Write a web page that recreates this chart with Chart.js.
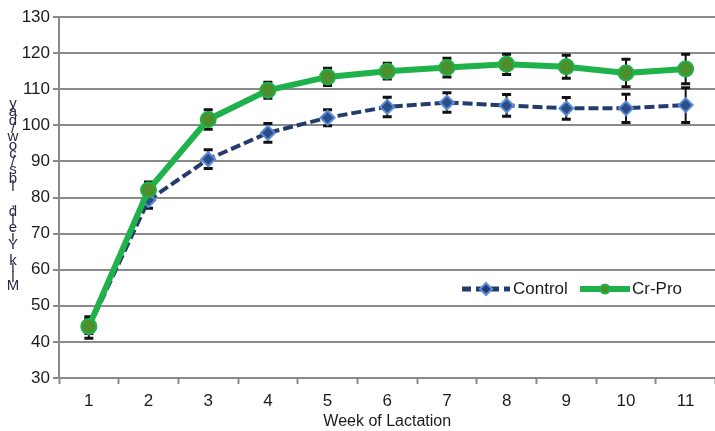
<!DOCTYPE html>
<html>
<head>
<meta charset="utf-8">
<script src="https://cdn.jsdelivr.net/npm/chart.js@4.4.1/dist/chart.umd.min.js"></script>
<style>
  html, body { margin: 0; padding: 0; background: #fff; overflow: hidden; }
  #wrap { width: 725px; height: 431px; }
</style>
</head>
<body>
<div id="wrap"><canvas id="c" width="725" height="431"></canvas></div>
<script>
// Weekly milk yield by treatment
const weeks = ['1', '2', '3', '4', '5', '6', '7', '8', '9', '10', '11'];
const controlMean = [44.0, 79.3, 90.6, 97.9, 102.1, 105.1, 106.3, 105.5, 104.7, 104.7, 105.6];
const controlErr  = [3.0, 2.3, 2.6, 2.6, 2.2, 2.7, 2.7, 3.0, 3.0, 3.9, 4.8];
const crProMean   = [44.3, 82.1, 101.6, 109.7, 113.4, 115.0, 116.0, 116.9, 116.2, 114.5, 115.6];
const crProErr    = [2.0, 2.2, 2.7, 2.2, 2.4, 2.2, 2.6, 2.8, 3.2, 3.8, 4.1];
const yTitle = 'Milk Yield, lbs/cow/day';
const xTitle = 'Week of Lactation';

const FONT = "'Liberation Sans', Arial, sans-serif";
const TEXT = '#1c1c1c';
const GRID = '#8a8a8a';
const NAVY = '#243b6e';
const GREEN = '#1fb24a';

// Vertical error bars, drawn underneath the series lines
const errorBars = {
  id: 'errorBars',
  beforeDatasetsDraw(chart) {
    const ctx = chart.ctx;
    const y = chart.scales.y;
    ctx.save();
    ctx.strokeStyle = '#111';
    chart.data.datasets.forEach((ds, i) => {
      const meta = chart.getDatasetMeta(i);
      meta.data.forEach((pt, j) => {
        const e = ds.errors[j];
        const v = ds.data[j];
        const top = y.getPixelForValue(v + e);
        const bot = y.getPixelForValue(v - e);
        ctx.lineWidth = 2;
        ctx.beginPath();
        ctx.moveTo(pt.x, top); ctx.lineTo(pt.x, bot);
        ctx.stroke();
        ctx.lineWidth = 3;
        ctx.beginPath();
        ctx.moveTo(pt.x - 4.5, top); ctx.lineTo(pt.x + 4.5, top);
        ctx.moveTo(pt.x - 4.5, bot); ctx.lineTo(pt.x + 4.5, bot);
        ctx.stroke();
      });
    });
    ctx.restore();
  }
};

// Legend inside the plot and the stacked-letter y title
const decorations = {
  id: 'decorations',
  afterDraw(chart) {
    const ctx = chart.ctx;
    ctx.save();
    // y title: characters stacked bottom to top
    ctx.font = '15px ' + FONT;
    ctx.fillStyle = '#2a2a4a';
    ctx.textAlign = 'center';
    ctx.textBaseline = 'middle';
    const chars = yTitle.split('');
    const step = (286 - 104) / (chars.length - 1);
    chars.forEach((ch, k) => {
      ctx.fillText(ch, 13, 286 - k * step);
    });

    // legend
    const ly = 289;
    // Control sample
    ctx.strokeStyle = NAVY;
    ctx.lineWidth = 5;
    ctx.setLineDash([9, 5]);
    ctx.beginPath(); ctx.moveTo(462, ly); ctx.lineTo(510, ly); ctx.stroke();
    ctx.setLineDash([]);
    ctx.fillStyle = NAVY;
    ctx.strokeStyle = '#5b8ed6';
    ctx.lineWidth = 2;
    ctx.beginPath();
    ctx.moveTo(486, ly - 6); ctx.lineTo(492, ly); ctx.lineTo(486, ly + 6); ctx.lineTo(480, ly);
    ctx.closePath(); ctx.fill(); ctx.stroke();
    // Cr-Pro sample
    ctx.strokeStyle = GREEN;
    ctx.lineWidth = 6;
    ctx.beginPath(); ctx.moveTo(580, ly); ctx.lineTo(630, ly); ctx.stroke();
    ctx.fillStyle = '#4c8f2c';
    ctx.strokeStyle = GREEN;
    ctx.lineWidth = 2;
    ctx.beginPath(); ctx.arc(605, ly, 4.5, 0, Math.PI * 2); ctx.fill(); ctx.stroke();

    ctx.font = '17px ' + FONT;
    ctx.fillStyle = TEXT;
    ctx.textAlign = 'left';
    ctx.fillText('Control', 513, ly);
    ctx.fillText('Cr-Pro', 632, ly);
    ctx.restore();
  }
};

new Chart(document.getElementById('c'), {
  type: 'line',
  data: {
    labels: weeks,
    datasets: [
      {
        label: 'Control',
        data: controlMean,
        errors: controlErr,
        order: 2,
        borderColor: NAVY,
        borderWidth: 4,
        borderDash: [10, 4],
        pointStyle: 'rectRot',
        pointRadius: 7,
        pointBackgroundColor: '#2b4d88',
        pointBorderColor: '#5b8ed6',
        pointBorderWidth: 2,
        tension: 0,
        fill: false
      },
      {
        label: 'Cr-Pro',
        data: crProMean,
        errors: crProErr,
        order: 1,
        borderColor: GREEN,
        borderWidth: 6,
        pointStyle: 'circle',
        pointRadius: 7.5,
        pointBackgroundColor: '#4c8f2c',
        pointBorderColor: GREEN,
        pointBorderWidth: 2,
        tension: 0,
        fill: false
      }
    ]
  },
  options: {
    responsive: false,
    animation: false,
    layout: { padding: { top: 17, right: 4, left: 0, bottom: 0 } },
    plugins: { legend: { display: false }, tooltip: { enabled: false } },
    scales: {
      x: {
        type: 'category',
        offset: true,
        grid: {
          offset: true,
          drawOnChartArea: false,
          drawTicks: true,
          tickLength: 6,
          tickColor: GRID,
          tickWidth: 2
        },
        border: { color: GRID, width: 2 },
        ticks: { color: TEXT, font: { family: FONT, size: 17 }, padding: 7, maxRotation: 0 },
        title: {
          display: true,
          text: xTitle,
          color: TEXT,
          font: { family: FONT, size: 16 },
          padding: { top: 0, bottom: 0 }
        },
        afterFit(s) { s.height = 53; }
      },
      y: {
        min: 30,
        max: 130,
        ticks: { stepSize: 10, color: TEXT, font: { family: FONT, size: 17 }, padding: 3 },
        grid: { color: GRID, lineWidth: 2, tickLength: 6, tickColor: GRID },
        border: { color: GRID, width: 2 },
        afterFit(s) { s.width = 59; }
      }
    }
  },
  plugins: [errorBars, decorations]
});
</script>
</body>
</html>
